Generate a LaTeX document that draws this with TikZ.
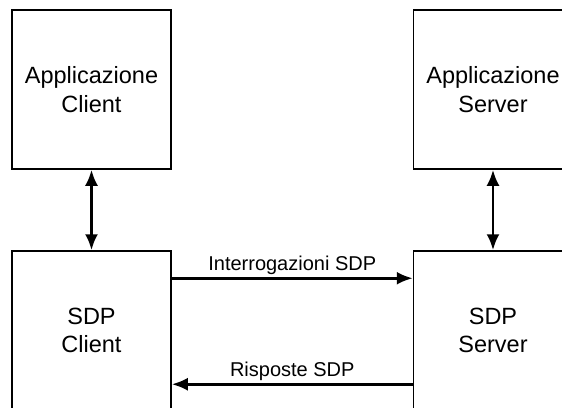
\documentclass[tikz,border=0pt]{standalone}
\usepackage{fontspec}
\setmainfont{Liberation Sans}
\usetikzlibrary{arrows.meta}
\begin{document}
\begin{tikzpicture}[x=1pt,y=-1pt,>={Latex[length=16pt,width=13pt]},
    blocco/.style={draw,line width=1.5pt,minimum width=159pt,minimum height=159pt,
      align=center,font=\fontsize{23.5}{28.5}\selectfont},
    freccia/.style={line width=2.8pt},
    etich/.style={font=\fontsize{20}{24}\selectfont,inner sep=2.5pt}]
          \clip (0,0) rectangle (562,407);
          \node [blocco] (appc) at (91.5,89.5) {Applicazione\\Client};
          \node [blocco] (apps) at (493,89.5) {Applicazione\\Server};
          \node [blocco] (sdpc) at (91.5,330.5) {SDP\\Client};
          \node [blocco] (sdps) at (493,330.5) {SDP\\Server};
          \draw [freccia,<->] (appc) -- (sdpc);
          \draw [freccia,<->] (apps) -- (sdps);
          \draw [freccia,->] ([yshift=-28pt]sdpc.north east) --
          node [etich,above] {Interrogazioni SDP} ([yshift=-28pt]sdps.north west);
          \draw [freccia,->] ([yshift=-134pt]sdps.north west) --
          node [etich,above] {Risposte SDP} ([yshift=-134pt]sdpc.north east);
        \end{tikzpicture}
\end{document}
